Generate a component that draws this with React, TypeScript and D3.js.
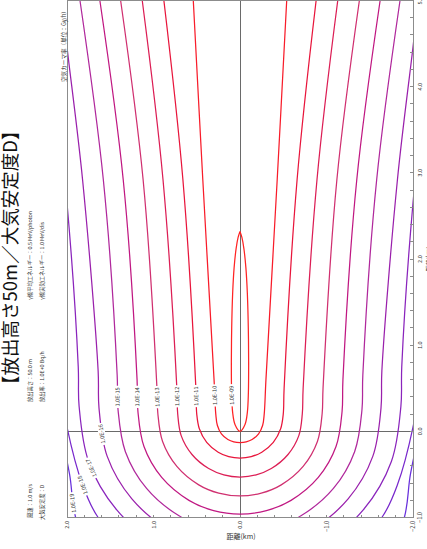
import React, { useEffect, useRef } from "react";
import * as d3 from "d3";

// ---------- data ----------
const levelLabels = [
  "1.0E-09", "1.0E-10", "1.0E-11", "1.0E-12", "1.0E-13", "1.0E-14",
  "1.0E-15", "1.0E-16", "1.0E-17", "1.0E-18", "1.0E-19",
];

// Left half of each contour: [crosswind km, downwind km], from downwind end to the centreline
const half09 = [[0, 2.32], [0.022, 2.25], [0.045, 2.12], [0.068, 1.9], [0.085, 1.6], [0.096, 1.2], [0.1, 0.8], [0.097, 0.45], [0.085, 0.22], [0.058, 0.08], [0, 0]];
const half10 = [[0.54, 5.0], [0.43, 2.92], [0.3, 0.6], [0.28, 0.2], [0.262, 0.07], [0.215, -0.03], [0.14, -0.095], [0.072, -0.122], [0, -0.13]];
const half11 = [[0.88, 5.0], [0.66, 2.92], [0.51, 0.5], [0.5, 0.2], [0.47, 0.03], [0.385, -0.128], [0.252, -0.242], [0.13, -0.293], [0, -0.31]];
const half12 = [[1.13, 5.0], [0.89, 2.92], [0.73, 0.5], [0.72, 0.2], [0.68, -0.05], [0.555, -0.269], [0.362, -0.432], [0.187, -0.505], [0, -0.53]];
const half13 = [[1.38, 5.0], [1.12, 2.92], [0.96, 0.5], [0.95, 0.21], [0.895, -0.118], [0.73, -0.407], [0.477, -0.621], [0.246, -0.717], [0, -0.75]];
const half14 = [[1.62, 5.0], [1.35, 2.92], [1.19, 0.6], [1.18, 0.23], [1.11, -0.177], [0.905, -0.535], [0.59, -0.801], [0.305, -0.92], [0, -0.96]];
const half15 = [[1.85, 5.0], [1.58, 2.92], [1.42, 0.65], [1.41, 0.25], [1.325, -0.236], [1.08, -0.663], [0.705, -0.98], [0.365, -1.12], [0, -1.17]];
const half16 = [[2.06, 5.0], [2.0, 4.46], [1.82, 2.92], [1.64, 0.7], [1.63, 0.27], [1.535, -0.291], [1.25, -0.784], [0.815, -1.15], [0.42, -1.31], [0, -1.37]];
const half17 = [[2.25, 5.0], [2.0, 2.65], [1.87, 0.75], [1.86, 0.29], [1.75, -0.35], [1.425, -0.912], [0.93, -1.33], [0.48, -1.516], [0, -1.58]];
const half18 = [[2.5, 5.0], [2.3, 2.5], [2.1, 0.7], [2.0, 0.05], [1.82, -0.62], [1.64, -1.0], [1.2, -1.45], [0, -1.8]];
const half19 = [[2.75, 5.0], [2.5, 2.5], [2.25, 0.5], [2.07, -0.05], [1.97, -0.5], [1.9, -1.0], [1.65, -1.6], [0, -2.1]];
const halves = [half09, half10, half11, half12, half13, half14, half15, half16, half17, half18, half19];

// downwind distance (km) at which each contour carries its label
const labelAtDownwind = [0.42, 0.42, 0.41, 0.41, 0.4, 0.4, 0.4, -0.03, -0.42, -0.62, -0.83];

const crossTickLabels = [2, 1, 0, -1, -2];
const downTickLabels = [-1, 0, 1, 2, 3, 4, 5];

const infoCol1 = ["風速：1.0 m/s", "放出高さ：50.0 m", "γ線平均エネルギー：0.5 MeV/photon"];
const infoCol2 = ["大気安定度：D", "放出率：1.0E+0 Bq/h", "γ線実効エネルギー：1.0 MeV/dis"];
const title = "【放出高さ50m／大気安定度D】";
const unitLabel = "空気カーマ率（単位：Gy/h）";
const axisTitle = "距離(km)";

// ---------- style ----------
const colors = ["#ff2424", "#f81c2a", "#e8163c", "#dc1e55", "#d03070", "#c01882", "#b0289c", "#9a20ac", "#8a24bc", "#7828cc", "#6830dc"];
const FONT = "'Noto Sans CJK JP', 'Noto Sans', sans-serif";

export default function App() {
  const ref = useRef<SVGSVGElement>(null);

  useEffect(() => {
    const svg = d3.select(ref.current);
    svg.selectAll("*").remove();

    const L = 67, R = 413, T = 0.5, B = 517.5;
    const x = d3.scaleLinear().domain([2, -2]).range([L, R]);
    const y = d3.scaleLinear().domain([-1, 5]).range([B, T]);

    svg.append("rect").attr("width", 427).attr("height", 549).attr("fill", "#fff");

    svg.append("defs").append("clipPath").attr("id", "plotclip")
      .append("rect").attr("x", L).attr("y", T).attr("width", R - L).attr("height", B - T);

    // crosshair
    const cross = svg.append("g").attr("stroke", "#6a6a6a").attr("stroke-width", 1).attr("shape-rendering", "crispEdges");
    cross.append("line").attr("x1", x(0)).attr("x2", x(0)).attr("y1", T).attr("y2", B);
    cross.append("line").attr("x1", L).attr("x2", R).attr("y1", y(0)).attr("y2", y(0));

    // contours
    const line = d3.line<number[]>()
      .x((p) => x(p[0]))
      .y((p) => y(p[1]))
      .curve(d3.curveCatmullRom.alpha(0.5));

    const cg = svg.append("g").attr("clip-path", "url(#plotclip)");
    const paths: SVGPathElement[] = [];
    halves.forEach((h, i) => {
      const mirrored = h.slice(0, -1).reverse().map((p) => [-p[0], p[1]]);
      const full = [...h, ...mirrored];
      const p = cg.append("path")
        .attr("d", line(full) as string)
        .attr("fill", "none")
        .attr("stroke", colors[i])
        .attr("stroke-width", 1.25);
      paths.push(p.node() as SVGPathElement);
    });

    // contour labels
    const lg = svg.append("g").attr("clip-path", "url(#plotclip)");
    paths.forEach((node, i) => {
      const target = y(labelAtDownwind[i]);
      const total = node.getTotalLength();
      let at = -1;
      for (let l = 0; l <= total; l += 0.5) {
        const pt = node.getPointAtLength(l);
        if (pt.y >= target) { at = l; break; }
      }
      if (at < 0) return;
      const c = node.getPointAtLength(at);
      const p1 = node.getPointAtLength(Math.max(0, at - 3));
      const p2 = node.getPointAtLength(Math.min(total, at + 3));
      const ang = (Math.atan2(p2.y - p1.y, p2.x - p1.x) * 180) / Math.PI + 180;
      const g = lg.append("g").attr("transform", `translate(${c.x},${c.y}) rotate(${ang})`);
      const rect = g.append("rect").attr("fill", "#fff");
      const t = g.append("text")
        .attr("text-anchor", "middle")
        .attr("dy", "0.35em")
        .attr("font-family", FONT)
        .attr("font-size", 5.6)
        .attr("fill", "#333")
        .text(levelLabels[i]);
      const w = (t.node() as SVGTextElement).getComputedTextLength();
      rect.attr("x", -w / 2 - 1.5).attr("y", -3.5).attr("width", w + 3).attr("height", 7);
    });

    // frame
    svg.append("rect").attr("x", L).attr("y", T).attr("width", R - L).attr("height", B - T)
      .attr("fill", "none").attr("stroke", "#8c8c8c").attr("stroke-width", 1).attr("shape-rendering", "crispEdges");

    // ticks
    const tg = svg.append("g").attr("stroke", "#8c8c8c").attr("stroke-width", 1).attr("shape-rendering", "crispEdges");
    x.ticks(20).forEach((v) => {
      tg.append("line").attr("x1", x(v)).attr("x2", x(v)).attr("y1", B).attr("y2", B - 3);
    });
    y.ticks(30).forEach((v) => {
      tg.append("line").attr("x1", R).attr("x2", R - 3).attr("y1", y(v)).attr("y2", y(v));
    });

    const fmt = d3.format(".1f");
    const txt = svg.append("g").attr("font-family", FONT).attr("fill", "#333");
    crossTickLabels.forEach((v) => {
      txt.append("text")
        .attr("transform", `translate(${x(v) + 2},${521}) rotate(-90)`)
        .attr("text-anchor", "end")
        .attr("font-size", 5.6)
        .text(fmt(v));
    });
    downTickLabels.forEach((v) => {
      txt.append("text")
        .attr("transform", `translate(${422},${y(v)}) rotate(-90)`)
        .attr("text-anchor", "middle")
        .attr("font-size", 5.6)
        .text(fmt(v));
    });
    txt.append("text")
      .attr("x", 241).attr("y", 539)
      .attr("text-anchor", "middle")
      .attr("font-size", 7)
      .text(axisTitle);
    txt.append("text")
      .attr("transform", `translate(${431},${(T + B) / 2}) rotate(-90)`)
      .attr("text-anchor", "middle")
      .attr("font-size", 6)
      .text(axisTitle);

    // unit label
    txt.append("text")
      .attr("transform", `translate(${66},${82}) rotate(-90)`)
      .attr("font-size", 5.6)
      .text(unitLabel);

    // info block
    const rowsY = [518, 402, 300];
    infoCol1.forEach((s, i) => {
      txt.append("text")
        .attr("transform", `translate(${32},${rowsY[i]}) rotate(-90)`)
        .attr("font-size", 5.3)
        .text(s);
    });
    infoCol2.forEach((s, i) => {
      txt.append("text")
        .attr("transform", `translate(${43.5},${rowsY[i] + (i === 0 ? 2 : 0)}) rotate(-90)`)
        .attr("font-size", 5.3)
        .text(s);
    });

    // title
    svg.append("text")
      .attr("transform", `translate(${17},${394}) rotate(-90)`)
      .attr("font-family", FONT)
      .attr("font-size", 18.5)
      .attr("fill", "#111")
      .text(title);
  }, []);

  return (
    <svg
      ref={ref}
      width={427}
      height={549}
      style={{ position: "absolute", left: 0, top: 0, display: "block" }}
    />
  );
}
